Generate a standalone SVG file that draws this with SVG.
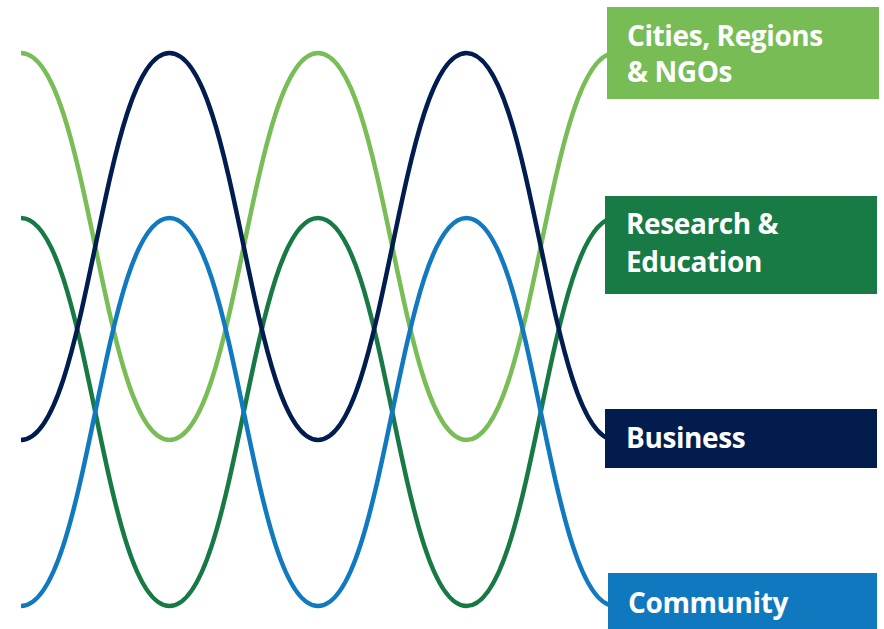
<svg xmlns="http://www.w3.org/2000/svg" width="884" height="629" viewBox="0 0 884 629">
<style>
.wave{fill:none;stroke-width:4.5}
.lbl{font-family:"Open Sans","Noto Sans","Liberation Sans",sans-serif;font-weight:700;font-size:28px;letter-spacing:-0.4px;fill:#ffffff}
</style>
<rect x="0" y="0" width="884" height="629" fill="#ffffff"/>
<g id="connectors">
<path class="wave" stroke="#78bd55" d="M21 53 C89 53 101.5 440 169.5 440 C237.5 440 250 53 318 53 C386 53 398.5 440 466.5 440 C534.5 440 547 53 615 53"/>
<path class="wave" stroke="#177a44" d="M21 218 C89 218 101.5 606 169.5 606 C237.5 606 250 218 318 218 C386 218 398.5 606 466.5 606 C534.5 606 547 218 615 218"/>
<path class="wave" stroke="#011c4e" d="M21 440 C89 440 101.5 53 169.5 53 C237.5 53 250 440 318 440 C386 440 398.5 53 466.5 53 C534.5 53 547 440 615 440"/>
<path class="wave" stroke="#1179bf" d="M21 606 C89 606 101.5 218 169.5 218 C237.5 218 250 606 318 606 C386 606 398.5 218 466.5 218 C534.5 218 547 606 615 606"/>
</g>
<g id="node-cities">
<rect x="607" y="7" width="272" height="92" fill="#78bc55"/>
<text class="lbl" x="627" y="46">Cities, Regions</text>
<text class="lbl" x="627" y="82">&amp; NGOs</text>
</g>
<g id="node-research">
<rect x="605" y="196" width="272" height="98" fill="#187a45"/>
<text class="lbl" x="626" y="234">Research &amp;</text>
<text class="lbl" x="626" y="272">Education</text>
</g>
<g id="node-business">
<rect x="605" y="409" width="272" height="59" fill="#011c4d"/>
<text class="lbl" x="626" y="448">Business</text>
</g>
<g id="node-community">
<rect x="608" y="573" width="269" height="56" fill="#0f78be"/>
<text class="lbl" x="628" y="613">Community</text>
</g>
</svg>
